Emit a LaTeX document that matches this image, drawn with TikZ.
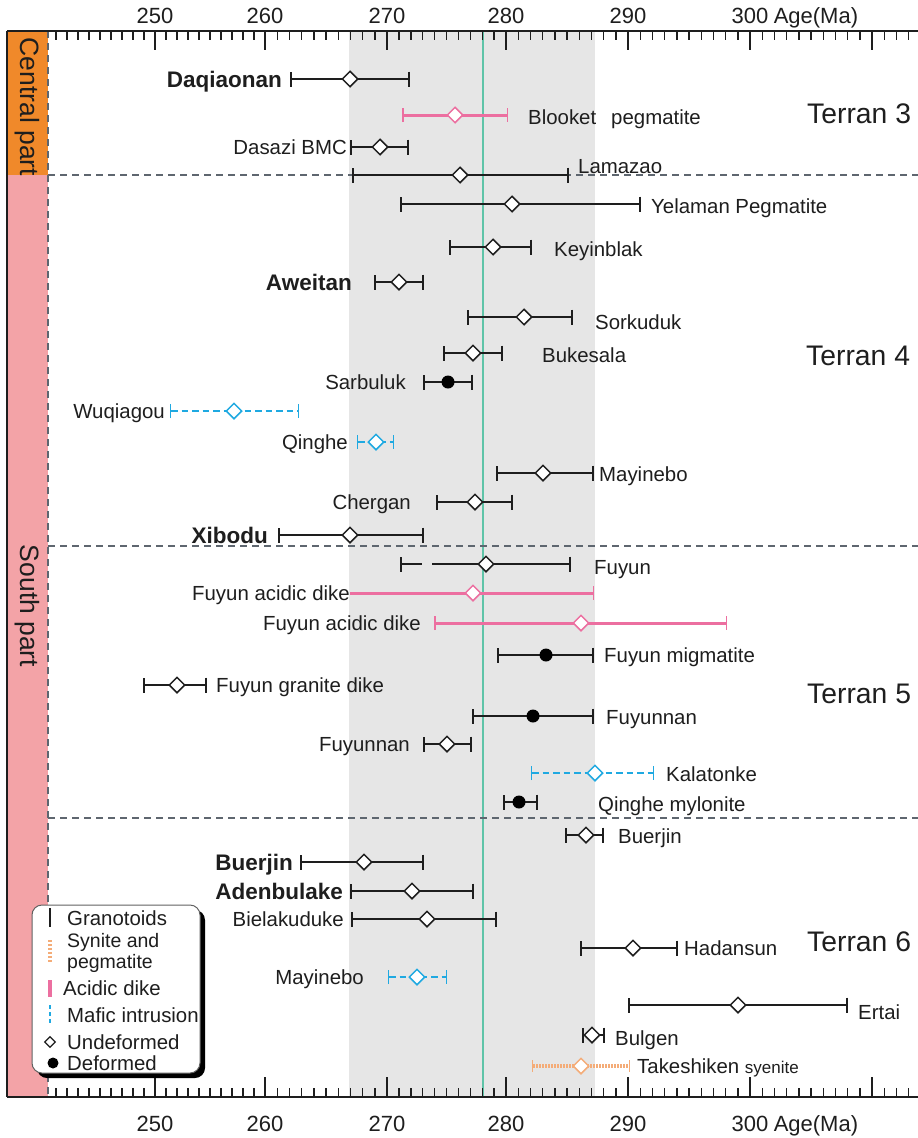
\documentclass[tikz,border=0pt]{standalone}
\usepackage{fontspec}
\setmainfont{Liberation Sans}
\usepackage{tikz}
\usetikzlibrary{positioning, arrows.meta, shapes.geometric, shadows}
\usepackage{xcolor}
\definecolor{inkblack}{HTML}{1E1E1E}
\definecolor{bandgray}{HTML}{E6E6E6}
\definecolor{agegreen}{HTML}{5FC4A8}
\definecolor{centralorange}{HTML}{F0892A}
\definecolor{southpink}{HTML}{F3A3A7}
\definecolor{dikepink}{HTML}{EC6FA0}
\definecolor{maficblue}{HTML}{1FA9E1}
\definecolor{syeniteorange}{HTML}{F4AC78}
\definecolor{sepgray}{HTML}{5E666F}

\begin{document}
\begin{tikzpicture}[x=1pt, y=-1pt,
    lbl/.style={font=\fontsize{20.4}{24}\selectfont, text=inkblack,
      inner sep=0pt, text height=14.6pt, text depth=0pt},
    boldlbl/.style={lbl, font=\fontsize{22.5}{26}\selectfont\bfseries,
      text height=16.1pt},
    terran/.style={lbl, font=\fontsize{28.3}{32}\selectfont,
      text height=20.3pt, anchor=west},
    sidelbl/.style={font=\fontsize{26.5}{30}\selectfont, text=inkblack,
      inner sep=0pt, rotate=-90},
    axislbl/.style={font=\fontsize{22}{26}\selectfont, text=inkblack,
      inner sep=0pt},
    tick/.style={draw=inkblack, line width=1.4pt},
    frame/.style={draw=inkblack, line width=2.6pt},
    sep/.style={draw=sepgray, line width=1.5pt, dash pattern=on 7pt off 5pt},
    gbar/.style={draw=inkblack, line width=2.5pt,
      arrows={Bar[width=15pt,line width=1.8pt]-Bar[width=15pt,line width=1.8pt]}},
    pbar/.style={draw=dikepink, line width=3pt,
      arrows={Bar[width=14pt,line width=1.5pt]-Bar[width=14pt,line width=1.5pt]}},
    bbar/.style={draw=maficblue, line width=2.6pt, dash pattern=on 6.5pt off 4pt,
      arrows={Bar[width=14pt,line width=1.4pt]-Bar[width=14pt,line width=1.4pt]}},
    obar/.style={draw=syeniteorange, line width=4pt, dash pattern=on 1.6pt off 1.4pt,
      arrows={Bar[width=12pt,line width=1.4pt]-Bar[width=12pt,line width=1.4pt]}},
    undef/.style={diamond, draw=inkblack, fill=white, line width=1.5pt,
      inner sep=0pt, minimum width=16pt, minimum height=16pt},
    deform/.style={circle, fill=black, inner sep=0pt, minimum size=13pt},
    legendbox/.style={rectangle, draw=inkblack!70, fill=white, line width=1pt,
      rounded corners=10pt, minimum width=168pt, minimum height=168pt,
      drop shadow={shadow xshift=5pt, shadow yshift=-5pt, fill=black, opacity=1}},
  ]
  \path[use as bounding box, fill=white] (0,0) rectangle (918,1138);

  % age band and column
  \fill[bandgray] (349,31) rectangle (595,1097);
  \draw[agegreen, line width=1.2pt] (483,31) -- (483,1097);
  \fill[centralorange] (7,31) rectangle (48,175);
  \fill[southpink] (7,175) rectangle (48,1097);
  \draw[sep] (48,31) -- (48,1097);
  \foreach \y in {175,546,818}
    \draw[sep] (48,\y) -- (918,\y);

  \node[sidelbl] (central) at (27,107) {Central part};
  \node[sidelbl] (south) at (27,606) {South part};

  % axes
  \draw[frame] (7,31) -- (918,31);
  \draw[frame] (7,1097) -- (918,1097);
  \draw[frame] (7,31) -- (7,1097);
  \foreach \a/\b/\n in {45/155/9, 155/265/9, 265/387/9, 387/506/9,
      506/628/9, 628/750/9, 750/872/9, 872/994/3}
    \foreach \k in {1,...,\n} {
      \pgfmathsetmacro\tx{\a+\k*(\b-\a)/10}
      \draw[tick] (\tx,31) -- (\tx,40);
      \draw[tick] (\tx,1097) -- (\tx,1088);
    }
  \foreach \x in {155,265,387,506,628,750,872} {
    \draw[tick] (\x,31) -- (\x,50);
    \draw[tick] (\x,1097) -- (\x,1077);
  }
  \foreach \x/\t in {155/250, 265/260, 387/270, 506/280, 628/290, 750/300} {
    \node[axislbl] (top\t) at (\x,16) {\t};
    \node[axislbl] (bot\t) at (\x,1124) {\t};
  }
  \node[axislbl, anchor=base west] (agetop) at ([xshift=5pt]top300.base east) {Age(Ma)};
  \node[axislbl, anchor=base west] (agebot) at ([xshift=5pt]bot300.base east) {Age(Ma)};

  % granitoids, undeformed
  \foreach \y/\a/\m/\b in {79/290/350/410, 147/350/380/409, 175/352/460/569,
      204/400/512/641, 247/449/493/532, 282/374/399/424, 317/467/524/573,
      353/443/473/503, 473/496/543/594, 502/436/475/513, 535/278/350/424,
      685/143/177/207, 744/423/447/472, 835/565/586/604, 862/300/364/424,
      891/350/412/474, 919/351/427/497, 948/580/633/678, 1005/628/738/848,
      1035/582/592/605} {
    \draw[gbar] (\a,\y) -- (\b,\y);
    \node[undef] (g\y) at (\m,\y) {};
  }
  \draw[gbar, arrows={Bar[width=15pt,line width=1.8pt]-}] (400,564) -- (422,564);
  \draw[gbar, arrows={-Bar[width=15pt,line width=1.8pt]}] (432,564) -- (571,564);
  \node[undef] (g564) at (486,564) {};

  % granitoids, deformed
  \foreach \y/\a/\m/\b in {382/423/448/473, 655/497/546/594,
      716/472/533/594, 802/503/519/538} {
    \draw[gbar] (\a,\y) -- (\b,\y);
    \node[deform] (d\y) at (\m,\y) {};
  }

  % acidic dikes
  \foreach \y/\a/\m/\b in {115/402/455/508, 623/434/581/727} {
    \draw[pbar] (\a,\y) -- (\b,\y);
    \node[undef, draw=dikepink] (p\y) at (\m,\y) {};
  }
  \draw[pbar, arrows={-Bar[width=14pt,line width=1.5pt]}] (350,593) -- (594,593);
  \node[undef, draw=dikepink] (p593) at (473,593) {};

  % mafic intrusions
  \foreach \y/\a/\m/\b in {411/170/234/299, 442/357/376/394,
      773/531/595/654, 977/388/417/447} {
    \draw[bbar] (\a,\y) -- (\b,\y);
    \node[undef, draw=maficblue] (b\y) at (\m,\y) {};
  }

  % syenite
  \draw[obar] (532,1066) -- (630,1066);
  \node[undef, draw=syeniteorange] (o1066) at (581,1066) {};

  % sample names
  \node[boldlbl, anchor=east] (daqiaonan) at (282,79) {Daqiaonan};
  \node[lbl, anchor=west] (blooket) at (528,117) {Blooket\hspace{15pt}pegmatite};
  \node[lbl, anchor=east] (dasazi) at (347,147) {Dasazi BMC};
  \node[lbl, anchor=west] (lamazao) at (578,166) {Lamazao};
  \node[lbl, anchor=west] (yelaman) at (651,206) {Yelaman Pegmatite};
  \node[lbl, anchor=west] (keyinblak) at (554,249) {Keyinblak};
  \node[boldlbl, anchor=east] (aweitan) at (352,282) {Aweitan};
  \node[lbl, anchor=west] (sorkuduk) at (595,322) {Sorkuduk};
  \node[lbl, anchor=west] (bukesala) at (542,355) {Bukesala};
  \node[lbl, anchor=east] (sarbuluk) at (406,382) {Sarbuluk};
  \node[lbl, anchor=east] (wuqiagou) at (165,411) {Wuqiagou};
  \node[lbl, anchor=east] (qinghe) at (348,442) {Qinghe};
  \node[lbl, anchor=west] (mayinebo) at (599,474) {Mayinebo};
  \node[lbl, anchor=east] (chergan) at (411,502) {Chergan};
  \node[boldlbl, anchor=east] (xibodu) at (268,535) {Xibodu};
  \node[lbl, anchor=west] (fuyun) at (594,567) {Fuyun};
  \node[lbl, anchor=east] (dikea) at (350,593) {Fuyun acidic dike};
  \node[lbl, anchor=east] (dikeb) at (421,623) {Fuyun acidic dike};
  \node[lbl, anchor=west] (migmatite) at (604,655) {Fuyun migmatite};
  \node[lbl, anchor=west] (granitedike) at (216,685) {Fuyun granite dike};
  \node[lbl, anchor=west] (fuyunnana) at (606,717) {Fuyunnan};
  \node[lbl, anchor=east] (fuyunnanb) at (410,744) {Fuyunnan};
  \node[lbl, anchor=west] (kalatonke) at (666,774) {Kalatonke};
  \node[lbl, anchor=west] (mylonite) at (598,804) {Qinghe mylonite};
  \node[lbl, anchor=west] (buerjina) at (618,836) {Buerjin};
  \node[boldlbl, anchor=east] (buerjinb) at (293,862) {Buerjin};
  \node[boldlbl, anchor=east] (adenbulake) at (343,891) {Adenbulake};
  \node[lbl, anchor=east] (bielakuduke) at (344,919) {Bielakuduke};
  \node[lbl, anchor=west] (hadansun) at (684,948) {Hadansun};
  \node[lbl, anchor=east] (mayinebob) at (364,977) {Mayinebo};
  \node[lbl, anchor=west] (ertai) at (858,1012) {Ertai};
  \node[lbl, anchor=west] (bulgen) at (615,1038) {Bulgen};
  \node[lbl, anchor=west] (takeshiken) at (637,1066)
    {Takeshiken {\fontsize{17}{20}\selectfont syenite}};

  \node[terran] (terran3) at (807,113) {Terran 3};
  \node[terran] (terran4) at (806,355) {Terran 4};
  \node[terran] (terran5) at (807,693) {Terran 5};
  \node[terran] (terran6) at (807,941) {Terran 6};

  % legend
  \node[legendbox] (legend) at (116,989) {};
  \draw[inkblack, line width=2.5pt] (50,908) -- (50,927);
  \node[lbl, anchor=west] (leggran) at (67,918) {Granotoids};
  \draw[syeniteorange, line width=3.5pt, dash pattern=on 2pt off 2pt] (50,940) -- (50,962);
  \node[lbl, anchor=west, font=\fontsize{19.5}{22}\selectfont] (legsyena) at (67,940) {Synite and};
  \node[lbl, anchor=west, font=\fontsize{19.5}{22}\selectfont] (legsyenb) at (67,961) {pegmatite};
  \draw[dikepink, line width=4pt] (50,980) -- (50,997);
  \node[lbl, anchor=west] (legdike) at (63,988) {Acidic dike};
  \draw[maficblue, line width=2.5pt, dash pattern=on 4pt off 3pt] (50,1005) -- (50,1023);
  \node[lbl, anchor=west] (legmafic) at (67,1015) {Mafic intrusion};
  \node[undef, minimum width=11pt, minimum height=11pt, line width=1.2pt] (legundef) at (50,1042) {};
  \node[lbl, anchor=west] (legundeftxt) at (67,1042) {Undeformed};
  \node[deform, minimum size=11pt] (legdef) at (53,1063) {};
  \node[lbl, anchor=west] (legdeftxt) at (67,1063) {Deformed};
\end{tikzpicture}
\end{document}
